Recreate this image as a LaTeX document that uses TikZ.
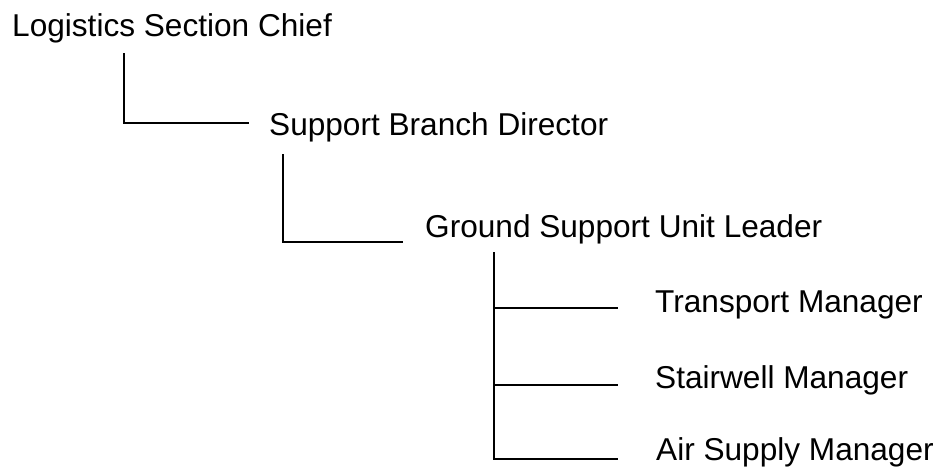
\documentclass[tikz,border=0pt]{standalone}
\usepackage{fontspec}
\setmainfont{Liberation Sans}
\begin{document}
\begin{tikzpicture}[x=1pt,y=-1pt,
  lbl/.style={anchor=base west, inner sep=0pt, font=\fontsize{31.6}{38}\selectfont},
  conn/.style={line width=1.7pt, line cap=rect}]
\useasboundingbox (0,0) rectangle (940,474);
\node[lbl] (lsc) at (12,36) {Logistics Section Chief};
\node[lbl] (sbd) at (269,135) {Support Branch Director};
\node[lbl] (gsu) at (425,237) {Ground Support Unit Leader};
\node[lbl] (tm) at (655,312) {Transport Manager};
\node[lbl] (sm) at (655,388) {Stairwell Manager};
\node[lbl] (asm) at (656,460) {Air Supply Manager};
% connector end points
\coordinate (a0) at (124,54);
\coordinate (a1) at (248,123);
\coordinate (b0) at (283,155);
\coordinate (b1) at (402,242);
\coordinate (c0) at (494,253);
\coordinate (c1) at (617,308);
\coordinate (c2) at (617,385);
\coordinate (c3) at (617,459);
\draw[conn] (a0) |- (a1);
\draw[conn] (b0) |- (b1);
\draw[conn] (c0) |- (c3);
\draw[conn] (c0 |- c1) -- (c1);
\draw[conn] (c0 |- c2) -- (c2);
\end{tikzpicture}
\end{document}
